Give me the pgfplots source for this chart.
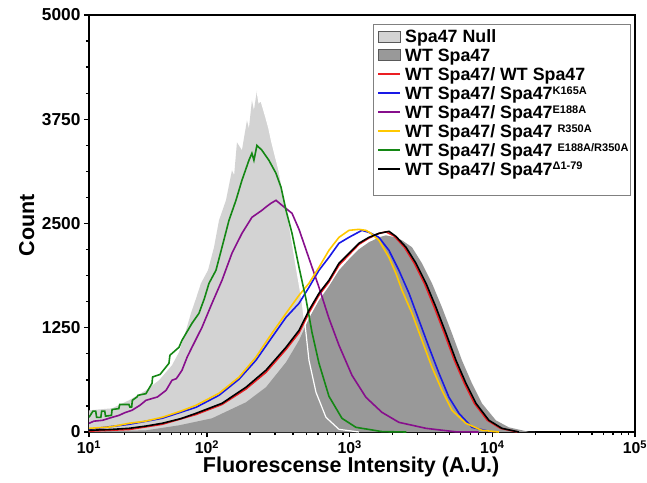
\documentclass[border=0pt]{standalone}
\usepackage{fontspec}
\setmainfont{Liberation Sans}
\usepackage{pgfplots}
\pgfplotsset{compat=1.18}
\definecolor{nullgray}{RGB}{211,211,211}
\definecolor{wtgray}{RGB}{153,153,153}
\definecolor{cred}{RGB}{235,30,35}
\definecolor{cblue}{RGB}{25,25,230}
\definecolor{cpurple}{RGB}{135,15,140}
\definecolor{cyellow}{RGB}{255,200,0}
\definecolor{cgreen}{RGB}{20,135,20}
\newcommand{\supr}[1]{\raisebox{5.3pt}{\fontsize{11}{12}\selectfont #1}}

\begin{document}
\begin{tikzpicture}
\useasboundingbox (-89pt,-50pt) rectangle (558pt,432pt);
\begin{axis}[
  scale only axis, width=546pt, height=417pt,
  at={(0pt,0pt)}, anchor=south west,
  xmin=10, xmax=100000, ymin=0, ymax=5000,
  % compressed first decade, like the cytometer's display scale
  x coord trafo/.code={%
    \begingroup
    \pgfkeys{/pgf/fpu=true,/pgf/fpu/output format=fixed}%
    \pgfmathparse{log10(#1)}\let\lv\pgfmathresult
    \pgfmathparse{ifthenelse(\lv<2,2-0.827*(2-\lv),\lv)}%
    \xdef\mytrafores{\pgfmathresult}%
    \endgroup
    \let\pgfmathresult\mytrafores},
  xtick={10,100,1000,10000,100000},
  xticklabels={10\textsuperscript{1},10\textsuperscript{2},10\textsuperscript{3},10\textsuperscript{4},10\textsuperscript{5}},
  minor xtick={20,30,40,50,60,70,80,90,200,300,400,500,600,700,800,900,2000,3000,4000,5000,6000,7000,8000,9000,20000,30000,40000,50000,60000,70000,80000,90000},
  ytick={0,1250,2500,3750,5000},
  minor y tick num=3,
  tick align=outside, tick pos=left,
  major tick length=5pt, minor tick length=3pt,
  every tick/.style={black,line width=1.3pt},
  axis line style={line width=2pt},
  /pgf/number format/1000 sep={},
  /pgf/number format/assume math mode=true,
  yticklabel style={font=\fontsize{17.3}{20}\selectfont\bfseries},
  xticklabel style={font=\fontsize{15.8}{18}\selectfont\bfseries},
  xlabel={Fluorescense Intensity (A.U.)},
  ylabel={Count},
  label style={font=\fontsize{21.5}{24}\selectfont\bfseries},
  xlabel style={at={(axis description cs:0.480,-0.0969)},anchor=base},
  ylabel style={at={(axis description cs:-0.1005,0.496)},anchor=base},
]
% Spa47 Null histogram
\addplot[fill=nullgray,draw=none] coordinates {
(10,260) (15.7,284) (21.8,380) (30.4,500) (39.2,620) (50.5,800) (57.9,956) (66.4,1219)
(73.1,1423) (80.7,1600) (88.9,1783) (101.6,1939) (112,2215) (121.4,2538) (135.8,2778)
(149.6,3138) (155,3080) (162.2,3473) (175.8,3378) (190.6,3737) (196.8,3641) (206.5,3977)
(213.3,3857) (223.9,4097) (231.2,3953) (238.8,3977) (258.8,3773) (271.6,3641) (285.1,3473)
(319.6,3138) (375.8,2514) (420.7,1999) (463.5,1579) (494.5,1183) (518.6,860) (580.8,476)
(682.3,176) (841.4,32) (1161,0)} \closedcycle;

% WT Spa47 histogram
\addplot[fill=wtgray,draw=none] coordinates {
(10,5) (30.4,20) (57.9,80) (108.4,164) (187.5,356) (258.8,536) (358.1,836) (441.6,1099)
(518.6,1363) (609.5,1579) (716.1,1747) (841.4,1939) (988.5,2071) (1161,2191) (1365,2275)
(1603,2334) (1795,2358) (2109,2334) (2328,2299) (2735,2215) (3213,2023) (3776,1783)
(4436,1495) (5212,1183) (6123,860) (7194,584) (8453,344) (10590,140) (13060,56)
(18030,2) (20000,0)} \closedcycle;

% white outline of the null histogram
\addplot[white,line width=1.2pt] coordinates {
(223.9,4097) (231.2,3953) (238.8,3977) (258.8,3773) (271.6,3641) (285.1,3473)
(319.6,3138) (375.8,2514) (420.7,1999) (463.5,1579) (494.5,1183) (518.6,860) (580.8,476)
(682.3,176) (841.4,32) (1161,0)};

% WT Spa47 / WT Spa47
\addplot[cred,line width=1.6pt] coordinates {
(10,10) (21.8,30) (41.6,92) (80.7,210) (127.4,330) (187.5,515) (258.8,715) (358.1,990)
(441.6,1190) (518.6,1430) (609.5,1640) (716.1,1800) (841.4,2000) (988.5,2125) (1161,2250)
(1365,2325) (1603,2380) (1795,2400) (2050,2350) (2420,2215) (2840,2023) (3340,1783)
(3920,1495) (4610,1183) (5420,860) (6370,584) (7480,344) (9230,140) (11400,44) (15000,0)};

% K165A
\addplot[cblue,line width=1.6pt] coordinates {
(10,32) (21.8,92) (41.6,164) (80.7,296) (121.4,440) (167.5,632) (220.3,860) (285.1,1135)
(358.1,1375) (441.6,1543) (518.6,1735) (609.5,1939) (716.1,2095) (841.4,2263) (988.5,2334)
(1219,2418) (1365,2394) (1603,2334) (1884,2179) (2213,1939) (2606,1663) (3062,1339)
(3597,1016) (4227,704) (4966,416) (5834,224) (7194,56) (9931,0)};

% E188A
\addplot[cpurple,line width=1.6pt] coordinates {
(10,104) (11,130) (13,140) (15.7,176) (18,200) (20,230) (23.1,260) (27,320) (30.4,380)
(38,420) (45,500) (50.5,620) (55,640) (61.4,740) (68,900) (74.6,1016) (90.7,1255)
(108.4,1543) (127.4,1819) (149.6,2143) (175.8,2382) (206.5,2574) (242.7,2658) (260,2700)
(280.5,2742) (304.5,2778) (335.7,2718) (394.5,2622) (441.6,2430) (518.6,2083) (609.5,1735)
(716.1,1363) (841.4,1040) (1038,680) (1300,416) (1683,236) (2213,116) (3428,44) (5559,2)
(8000,0)};

% R350A
\addplot[cyellow,line width=1.6pt] coordinates {
(10,44) (15,60) (21.8,104) (30,130) (41.6,176) (60,250) (80.7,320) (121.4,464) (167.5,656)
(220.3,896) (285.1,1183) (358.1,1423) (441.6,1639) (518.6,1783) (609.5,1975) (716.1,2179)
(841.4,2334) (988.5,2418) (1161,2430) (1300,2418) (1410,2382) (1603,2299) (1884,2095)
(2109,1903) (2328,1699) (2735,1423) (3213,1099) (3776,776) (4436,500) (5212,260)
(6531,104) (8453,20) (11120,0)};

% E188A/R350A
\addplot[cgreen,line width=1.6pt] coordinates {
(10,176) (10.8,250) (11.4,250) (11.6,176) (12.6,176) (12.8,250) (13.6,250) (13.8,190)
(15.5,200) (15.7,270) (17.9,280) (18.2,330) (21.8,330) (22.2,300) (23,300) (23.3,380)
(25.5,420) (26,440) (30.4,460) (34.2,584) (34.6,660) (40,690) (47.6,824) (48.5,920)
(57.9,1016) (61.4,1100) (74.6,1303) (85.5,1423) (95,1600) (103.3,1783) (115.6,1939)
(127.4,2215) (142.6,2538) (159.6,2778) (175.8,3018) (196.8,3258) (206.5,3342) (213.3,3258)
(223.9,3437) (242.7,3378) (271.6,3258) (304.5,3102) (330.4,2934) (358.1,2658) (394.5,2382)
(441.6,1975) (494.5,1591) (544.5,1195) (609.5,824) (716.1,428) (883.1,164) (1107,56)
(1683,5) (2500,0)};

% delta 1-79
\addplot[black,line width=1.6pt] coordinates {
(10,20) (15,30) (21.8,44) (30,70) (41.6,104) (60,160) (80.7,224) (127.4,344) (187.5,536)
(258.8,740) (358.1,1016) (441.6,1219) (518.6,1459) (609.5,1663) (716.1,1819) (841.4,2023)
(988.5,2143) (1161,2263) (1365,2334) (1603,2382) (1884,2406) (2109,2346) (2483,2215)
(2917,2023) (3428,1783) (4027,1495) (4732,1183) (5559,860) (6531,584) (7674,344)
(9462,140) (11670,44) (15360,0)};
\end{axis}

% legend, drawn by hand so that its rows sit where the reference has them
\draw[black!50,line width=1pt] (284pt,407pt) rectangle (541pt,236pt);
\begin{scope}[every node/.style={anchor=base west,inner sep=0pt,font=\fontsize{17.8}{20}\selectfont\bfseries}]
\draw[fill=nullgray,draw=black!65,line width=0.8pt] (289pt,390pt) rectangle (311pt,401pt);
\node at (316pt,389pt) {Spa47 Null};
\draw[fill=wtgray,draw=black!65,line width=0.8pt] (289pt,371.1pt) rectangle (311pt,382.1pt);
\node at (316pt,370.1pt) {WT Spa47};
\draw[cred,line width=1.6pt] (289pt,357.7pt) -- (311pt,357.7pt);
\node at (316pt,351.2pt) {WT Spa47/ WT Spa47};
\draw[cblue,line width=1.6pt] (289pt,338.8pt) -- (311pt,338.8pt);
\node at (316pt,332.3pt) {WT Spa47/ Spa47\supr{K165A}};
\draw[cpurple,line width=1.6pt] (289pt,319.9pt) -- (311pt,319.9pt);
\node at (316pt,313.4pt) {WT Spa47/ Spa47\supr{E188A}};
\draw[cyellow,line width=1.6pt] (289pt,301pt) -- (311pt,301pt);
\node at (316pt,294.5pt) {WT Spa47/ Spa47 \supr{R350A}};
\draw[cgreen,line width=1.6pt] (289pt,282.1pt) -- (311pt,282.1pt);
\node at (316pt,275.6pt) {WT Spa47/ Spa47 \supr{E188A/R350A}};
\draw[black,line width=1.6pt] (289pt,263.2pt) -- (311pt,263.2pt);
\node at (316pt,256.7pt) {WT Spa47/ Spa47\supr{Δ1-79}};
\end{scope}
\end{tikzpicture}
\end{document}
